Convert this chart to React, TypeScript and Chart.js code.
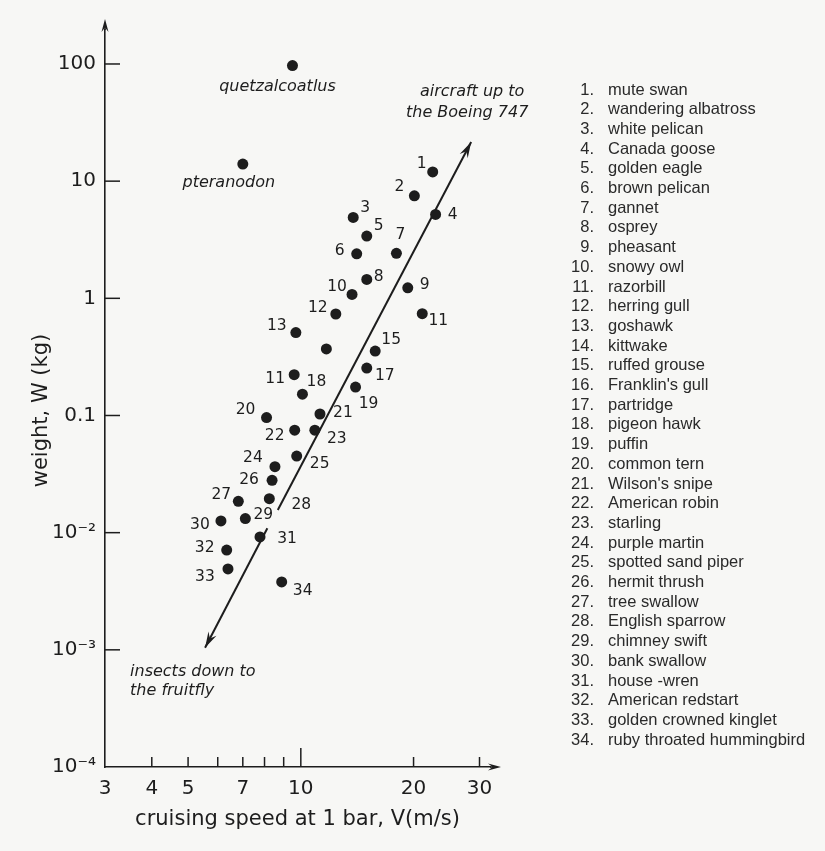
import React, { useEffect, useRef } from "react";
import { Chart, registerables } from "chart.js";

Chart.register(...registerables);

// ---- data ----
const birdSpeeds = [
  22.5, 20.1, 13.8, 22.9, 15.0, 14.1, 18.0, 15.0, 19.3, 13.7,
  21.1, 12.4, 9.7, 11.7, 15.8, 9.6, 15.0, 10.1, 14.0, 8.1,
  11.25, 9.63, 10.9, 8.53, 9.75, 8.38, 6.81, 8.24, 7.11, 6.12,
  7.78, 6.34, 6.39, 8.89,
];
const birdWeights = [
  12.0, 7.5, 4.9, 5.2, 3.4, 2.4, 2.42, 1.45, 1.23, 1.08,
  0.74, 0.735, 0.51, 0.37, 0.355, 0.223, 0.254, 0.152, 0.175, 0.096,
  0.103, 0.075, 0.075, 0.0366, 0.045, 0.028, 0.0185, 0.0195, 0.0132, 0.0126,
  0.0092, 0.0071, 0.0049, 0.0038,
];
const birdPointLabels = [
  "1", "2", "3", "4", "5", "6", "7", "8", "9", "10",
  "11", "12", "13", "", "15", "11", "17", "18", "19", "20",
  "21", "22", "23", "24", "25", "26", "27", "28", "29", "30",
  "31", "32", "33", "34",
];
const birdLabelDx = [
  -11, -15, 12, 17, 12, -17, 4, 12, 17, -15,
  16, -18, -19, 0, 16, -19, 18, 14, 13, -21,
  23, -20, 22, -22, 23, -23, -17, 32, 18, -21,
  27, -22, -23, 21,
];
const birdLabelDy = [
  -8, -9, -9, 1, -10, -3, -18, -2, -3, -7,
  7, -6, -7, 0, -11, 4, 8, -12, 17, -8,
  -1, 6, 9, -9, 8, 0, -6, 6, -4, 4,
  2, -2, 8, 9,
];
const birdNames = [
  "mute swan", "wandering albatross", "white pelican", "Canada goose",
  "golden eagle", "brown pelican", "gannet", "osprey", "pheasant",
  "snowy owl", "razorbill", "herring gull", "goshawk", "kittwake",
  "ruffed grouse", "Franklin's gull", "partridge", "pigeon hawk", "puffin",
  "common tern", "Wilson's snipe", "American robin", "starling",
  "purple martin", "spotted sand piper", "hermit thrush", "tree swallow",
  "English sparrow", "chimney swift", "bank swallow", "house -wren",
  "American redstart", "golden crowned kinglet", "ruby throated hummingbird",
];

const fossilNames = ["quetzalcoatlus", "pteranodon"];
const fossilSpeeds = [9.5, 7.0];
const fossilWeights = [97, 14.0];
const fossilLabelDx = [-15, -14];
const fossilLabelDy = [21, 19];

// trend arrow (upper part, lower part)
const trendUpperSpeeds = [28.5, 8.68];
const trendUpperWeights = [21.6, 0.0156];
const trendLowerSpeeds = [8.14, 5.55];
const trendLowerWeights = [0.0109, 0.00104];
const upperNote = ["aircraft up to", "the Boeing 747"];
const lowerNote = ["insects down to", "the fruitfly"];

const xTicks = [3, 4, 5, 6, 7, 8, 9, 10, 20, 30];
const xTickLabels = ["3", "4", "5", "", "7", "", "", "10", "20", "30"];
const yTicks = [1e-4, 1e-3, 1e-2, 0.1, 1, 10, 100];
const yTickLabels = ["10\u207B\u2074", "10\u207B\u00B3", "10\u207B\u00B2", "0.1", "1", "10", "100"];
const xMin = 3, xMax = 32, yMin = 1e-4, yMax = 195;
const xTitle = "cruising speed at 1 bar, V(m/s)";
const yTitle = "weight, W (kg)";

const INK = "#1d1d1d";
const BG = "#f7f7f5";
const LETTER = "'DejaVu Sans', sans-serif";

function pts(xs: number[], ys: number[]) {
  return xs.map((x, i) => ({ x, y: ys[i] }));
}

function arrowHead(ctx: CanvasRenderingContext2D, fx: number, fy: number, tx: number, ty: number, len: number, half: number) {
  const a = Math.atan2(ty - fy, tx - fx);
  const bx = tx - len * Math.cos(a), by = ty - len * Math.sin(a);
  ctx.beginPath();
  ctx.moveTo(tx, ty);
  ctx.lineTo(bx + half * Math.sin(a), by - half * Math.cos(a));
  ctx.lineTo(bx + 0.35 * len * Math.cos(a), by + 0.35 * len * Math.sin(a));
  ctx.lineTo(bx - half * Math.sin(a), by + half * Math.cos(a));
  ctx.closePath();
  ctx.fill();
}

const bgPlugin = {
  id: "bg",
  beforeDraw(chart: any) {
    const ctx = chart.ctx;
    ctx.save();
    ctx.fillStyle = BG;
    ctx.fillRect(0, 0, chart.width, chart.height);
    ctx.restore();
  },
};

const decorPlugin = {
  id: "decor",
  afterDatasetsDraw(chart: any) {
    const { ctx, chartArea } = chart;
    const xs = chart.scales.x, ys = chart.scales.y;
    ctx.save();
    ctx.strokeStyle = INK;
    ctx.fillStyle = INK;
    ctx.lineWidth = 1.6;

    // axis arrows
    const L = chartArea.left, B = chartArea.bottom;
    ctx.beginPath();
    ctx.moveTo(L, chartArea.top);
    ctx.lineTo(L, chartArea.top - 6);
    ctx.stroke();
    arrowHead(ctx, L, chartArea.top, L, chartArea.top - 11, 13, 3.5);
    ctx.beginPath();
    ctx.moveTo(chartArea.right, B);
    ctx.lineTo(chartArea.right + 6, B);
    ctx.stroke();
    arrowHead(ctx, chartArea.right, B, chartArea.right + 11, B, 13, 3.5);

    // inward tick marks
    ctx.lineWidth = 1.5;
    yTicks.slice(1).forEach((v) => {
      const py = ys.getPixelForValue(v);
      ctx.beginPath();
      ctx.moveTo(L, py);
      ctx.lineTo(L + 15, py);
      ctx.stroke();
    });
    xTicks.slice(1).forEach((v) => {
      const px = xs.getPixelForValue(v);
      const len = v === 10 ? 19 : 10;
      ctx.beginPath();
      ctx.moveTo(px, B);
      ctx.lineTo(px, B - len);
      ctx.stroke();
    });

    // y axis title (slightly below the axis centre, as in the reference)
    ctx.save();
    ctx.translate(42, (chartArea.top + chartArea.bottom) / 2 + 12);
    ctx.rotate(-Math.PI / 2);
    ctx.font = "21px " + LETTER;
    ctx.textAlign = "center";
    ctx.textBaseline = "middle";
    ctx.fillText(yTitle, 0, 0);
    ctx.restore();

    // trend arrowheads
    const up = chart.getDatasetMeta(2).data;
    const lo = chart.getDatasetMeta(3).data;
    arrowHead(ctx, up[1].x, up[1].y, up[0].x, up[0].y, 16, 4.5);
    arrowHead(ctx, lo[0].x, lo[0].y, lo[1].x, lo[1].y, 16, 4.5);

    // point labels
    ctx.font = "15.5px " + LETTER;
    ctx.textAlign = "center";
    ctx.textBaseline = "middle";
    chart.getDatasetMeta(0).data.forEach((p: any, i: number) => {
      if (!birdPointLabels[i]) return;
      ctx.fillText(birdPointLabels[i], p.x + birdLabelDx[i], p.y + birdLabelDy[i]);
    });

    // fossil names + notes (italic)
    ctx.font = "italic 16px " + LETTER;
    chart.getDatasetMeta(1).data.forEach((p: any, i: number) => {
      ctx.fillText(fossilNames[i], p.x + fossilLabelDx[i], p.y + fossilLabelDy[i]);
    });
    ctx.fillText(upperNote[0], up[0].x + 1, up[0].y - 50);
    ctx.fillText(upperNote[1], up[0].x - 4, up[0].y - 29);
    ctx.textAlign = "left";
    ctx.fillText(lowerNote[0], lo[1].x - 75, lo[1].y + 24);
    ctx.fillText(lowerNote[1], lo[1].x - 75, lo[1].y + 43);

    // species list
    ctx.fillStyle = "#2a2a2a";
    ctx.font = "16.5px 'Liberation Sans', Arial, sans-serif";
    birdNames.forEach((name, i) => {
      const yy = 90 + i * 19.7;
      ctx.textAlign = "right";
      ctx.fillText(String(i + 1) + ".", 594, yy);
      ctx.textAlign = "left";
      ctx.fillText(name, 608, yy);
    });
    ctx.restore();
  },
};

export default function App() {
  const ref = useRef<HTMLCanvasElement | null>(null);
  useEffect(() => {
    if (!ref.current) return;
    const chart = new Chart(ref.current, {
      type: "scatter",
      data: {
        datasets: [
          { data: pts(birdSpeeds, birdWeights), pointRadius: 5.5, backgroundColor: INK, borderWidth: 0 },
          { data: pts(fossilSpeeds, fossilWeights), pointRadius: 5.5, backgroundColor: INK, borderWidth: 0 },
          { data: pts(trendUpperSpeeds, trendUpperWeights), showLine: true, pointRadius: 0, borderColor: INK, borderWidth: 2 },
          { data: pts(trendLowerSpeeds, trendLowerWeights), showLine: true, pointRadius: 0, borderColor: INK, borderWidth: 2 },
        ],
      },
      options: {
        responsive: false,
        animation: false,
        events: [],
        layout: { padding: { left: 0, top: 30, right: 335, bottom: 0 } },
        plugins: { legend: { display: false }, tooltip: { enabled: false } },
        scales: {
          x: {
            type: "logarithmic",
            min: xMin,
            max: xMax,
            grid: { display: false, drawTicks: false },
            border: { display: true, color: INK, width: 1.6 },
            afterBuildTicks: (s: any) => { s.ticks = xTicks.map((v) => ({ value: v })); },
            afterFit: (s: any) => { s.height = 84; },
            ticks: {
              autoSkip: false,
              maxRotation: 0,
              padding: 10,
              color: INK,
              font: { family: LETTER, size: 20 },
              callback: (_v: any, i: number) => xTickLabels[i],
            },
            title: {
              display: true,
              text: xTitle,
              color: INK,
              font: { family: LETTER, size: 21 },
              padding: { top: 0, bottom: 19 },
            },
          },
          y: {
            type: "logarithmic",
            min: yMin,
            max: yMax,
            grid: { display: false, drawTicks: false },
            border: { display: true, color: INK, width: 1.6 },
            afterBuildTicks: (s: any) => { s.ticks = yTicks.map((v) => ({ value: v })); },
            afterFit: (s: any) => { s.width = 105; },
            ticks: {
              autoSkip: false,
              padding: 9,
              color: INK,
              font: { family: LETTER, size: 20 },
              callback: (_v: any, i: number) => yTickLabels[i],
            },
            title: { display: false, text: yTitle },
          },
        },
      },
      plugins: [bgPlugin, decorPlugin],
    } as any);
    return () => chart.destroy();
  }, []);
  return (
    <div style={{ position: "absolute", left: 0, top: 0, width: 825, height: 851, background: BG }}>
      <canvas ref={ref} width={825} height={851} style={{ display: "block" }} />
    </div>
  );
}
